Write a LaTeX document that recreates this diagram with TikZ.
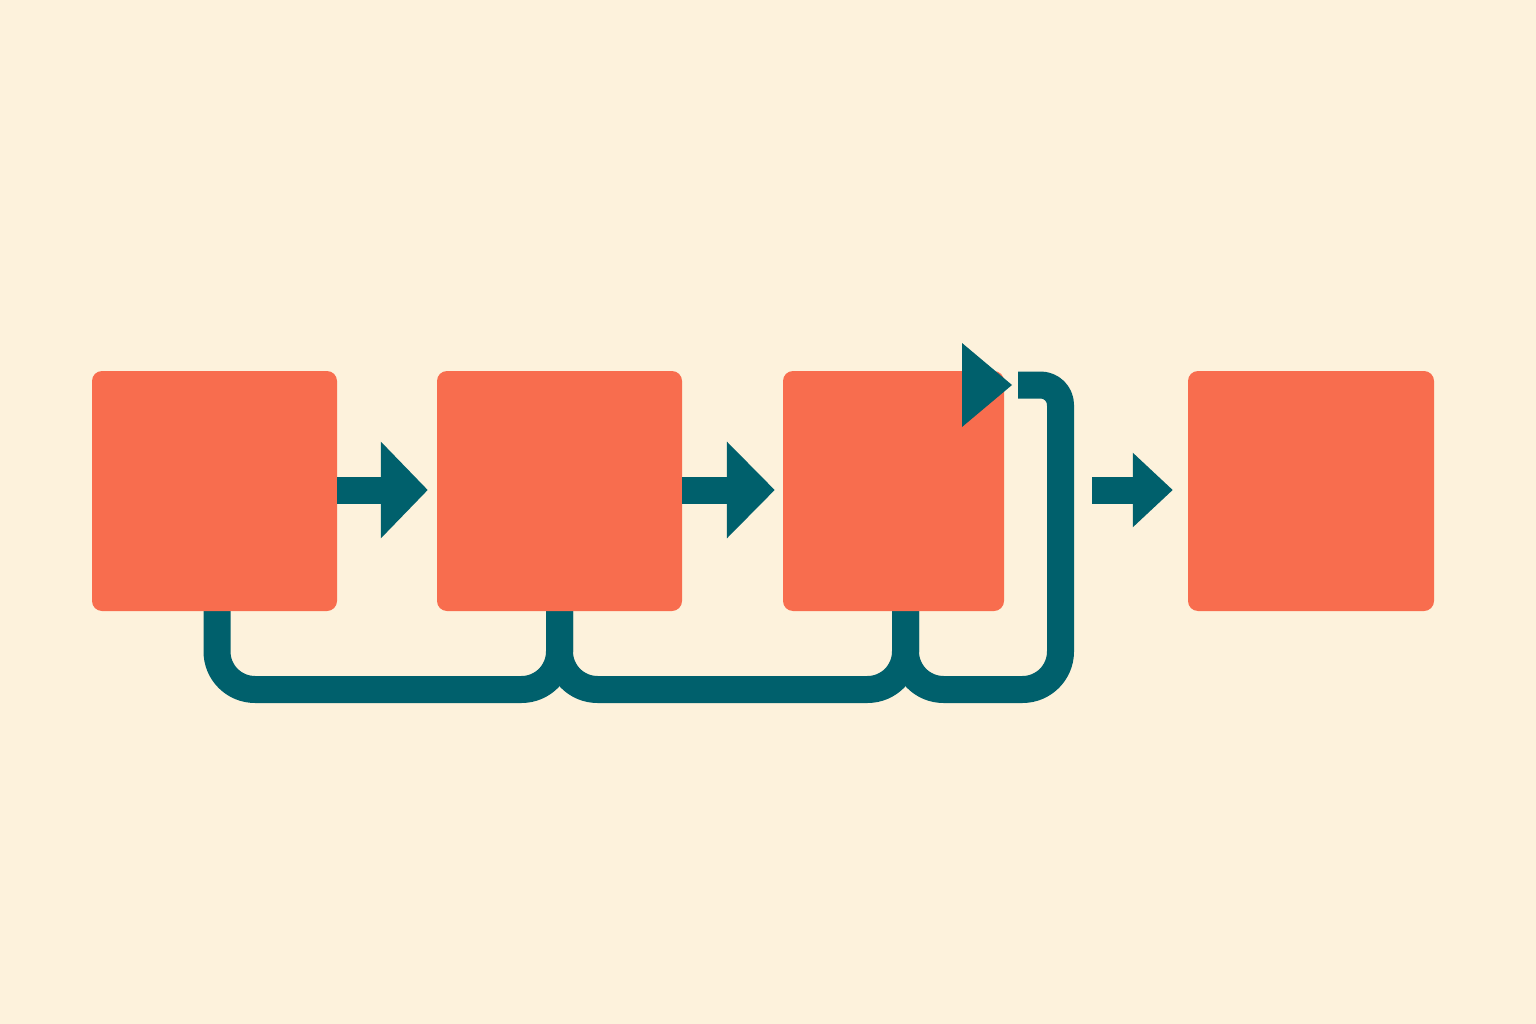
\documentclass[tikz,border=0pt]{standalone}
\usetikzlibrary{arrows.meta}
\definecolor{bgc}{HTML}{FDF2DC}
\definecolor{boxc}{HTML}{F86D4E}
\definecolor{tealc}{HTML}{00606C}
\tikzset{
  stepbox/.style={fill=boxc, draw=none, rounded corners=10pt, inner sep=0pt, minimum height=240pt},
  flow/.style={draw=tealc, line width=27pt, line cap=butt},
  loopline/.style={draw=tealc, line width=27pt, line cap=butt, line join=round},
}
\begin{document}
\begin{tikzpicture}[x=1pt,y=-1pt]
\fill[bgc] (0,0) rectangle (1536,1024);
\useasboundingbox (0,0) rectangle (1536,1024);
% feedback loop (behind boxes)
\coordinate (s1) at (217,611);
\coordinate (s2) at (559.5,611);
\coordinate (s3) at (905.5,611);
\coordinate (lb) at (1060.5,689.5);
\coordinate (lt) at (1060.5,385);
\coordinate (le) at (1018,385);
\draw[loopline, rounded corners=38pt] (s1) -- (217,689.5) -- (559.5,689.5) -- (s2);
\draw[loopline, rounded corners=38pt] (s2) -- (559.5,689.5) -- (905.5,689.5) -- (s3);
\draw[loopline, rounded corners=38pt] (s3) -- (905.5,689.5) -- (lb) [rounded corners=20pt] -- (lt) -- (le);
% boxes
\node[stepbox, minimum width=245pt] (b1) at (214.5,491) {};
\node[stepbox, minimum width=245pt] (b2) at (559.5,491) {};
\node[stepbox, minimum width=221pt] (b3) at (893.5,491) {};
\node[stepbox, minimum width=246pt] (b4) at (1311,491) {};
% forward arrows
\draw[flow, -{Triangle[length=47pt,width=94pt]}, shorten >=9pt] ([yshift=1pt]b1.east) -- ([yshift=1pt]b2.west);
\draw[flow, -{Triangle[length=48pt,width=94pt]}, shorten >=8pt] ([yshift=1pt]b2.east) -- ([yshift=1pt]b3.west);
\draw[flow, -{Triangle[length=40pt,width=72pt]}, shorten <=88pt, shorten >=15pt] ([yshift=1pt]b3.east) -- ([yshift=1pt]b4.west);
% feedback arrowhead
\coordinate (tip) at (1012,385);
\fill[tealc] (962,343) -- (tip) -- (962,427) -- cycle;
\end{tikzpicture}
\end{document}
